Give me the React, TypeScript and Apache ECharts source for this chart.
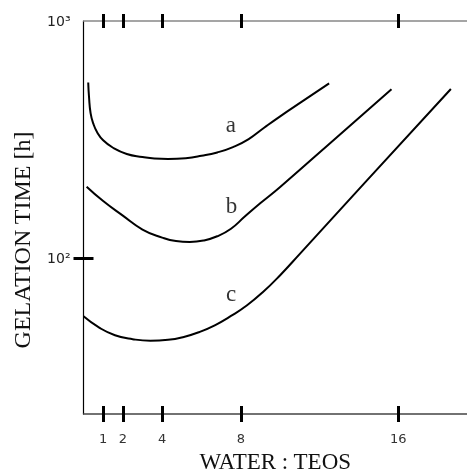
import React, { useEffect, useRef } from 'react';
import * as echarts from 'echarts';

// Tick positions / labels
const xTicks = [1, 2, 4, 8, 16];
const yTicks = [100, 1000];
const yTickLabels = ['10²', '10³'];

// Curve a
const aX = [0.24, 0.28, 0.36, 0.5, 0.7, 1.0, 1.5, 2.2, 3.0, 3.6, 4.3, 5.2, 6.0, 6.8, 7.6, 8.4, 9.2, 10.0, 11.2, 12.49];
const aY = [550, 479, 409, 369, 339, 314, 292, 275, 267, 263, 262, 264, 270, 279, 294, 317.7, 355.6, 396.3, 462.4, 545.8];

// Curve b
const bX = [0.16, 1, 2, 3, 4, 4.7, 5.4, 6.1, 6.8, 7.5, 8.2, 9.0, 10.0, 13.0, 15.66];
const bY = [200, 174, 151, 132, 122, 118, 117, 118.6, 123.6, 133, 149.6, 170.6, 199.5, 330, 515];

// Curve c
const cX = [0, 0.8, 1.6, 2.5, 3.4, 4.3, 5.1, 5.9, 6.7, 7.5, 8.3, 9.1, 10.0, 11.0, 14.39, 18.68];
const cY = [56.8, 50.9, 47.3, 45.5, 44.8, 45.2, 46.5, 48.8, 52.2, 57.0, 63.1, 71.6, 84.7, 104.2, 211.8, 516.4];

// Curve labels
const curveNames = ['a', 'b', 'c'];
const labelX = [7.49, 7.53, 7.51];
const labelY = [366, 166, 70.7];

const xTitle = 'WATER : TEOS';
const yTitle = 'GELATION TIME [h]';

const SERIF = '"Liberation Serif", "Times New Roman", serif';
const SANS = '"DejaVu Sans", Arial, sans-serif';

export default function App() {
  const ref = useRef<HTMLDivElement>(null);
  useEffect(() => {
    const chart = echarts.init(ref.current as HTMLDivElement, null, { renderer: 'svg' });
    const zip = (xs: number[], ys: number[]) => xs.map((x, i) => [x, ys[i]]);
    const xBase = {
      type: 'value',
      min: 0,
      max: 19.5,
      gridIndex: 0,
      splitLine: { show: false },
    };
    const tickStyle = { color: '#000', width: 3 };
    const yBase = {
      type: 'log',
      logBase: 10,
      min: 22,
      max: 1000,
      gridIndex: 0,
      position: 'left',
      splitLine: { show: false },
      minorTick: { show: false },
    };
    const lineStyle = { color: '#000', width: 2 };
    chart.setOption({
      animation: false,
      grid: { left: 83.5, right: 0, top: 21, bottom: 59, outerBoundsMode: 'none', containLabel: false },
      xAxis: [
        {
          ...xBase,
          position: 'bottom',
          axisLine: { show: true, lineStyle: { color: '#444', width: 1.5 } },
          axisTick: { show: true, inside: false, length: 8, lineStyle: tickStyle, customValues: xTicks },
          axisLabel: {
            show: true,
            customValues: xTicks,
            margin: 18,
            fontFamily: SANS,
            fontSize: 13,
            color: '#333',
          },
          name: xTitle,
          nameLocation: 'middle',
          nameGap: 35,
          nameTextStyle: { fontFamily: SERIF, fontSize: 23, color: '#111' },
        },
        {
          ...xBase,
          position: 'bottom',
          axisLine: { show: false },
          axisTick: { show: true, inside: true, length: 8, lineStyle: tickStyle, customValues: xTicks },
          axisLabel: { show: false },
        },
        {
          ...xBase,
          position: 'top',
          axisLine: { show: true, lineStyle: { color: '#888', width: 1.5 } },
          axisTick: { show: true, inside: false, length: 7, lineStyle: tickStyle, customValues: xTicks },
          axisLabel: { show: false },
        },
        {
          ...xBase,
          position: 'top',
          axisLine: { show: false },
          axisTick: { show: true, inside: true, length: 7, lineStyle: tickStyle, customValues: xTicks },
          axisLabel: { show: false },
        },
      ],
      yAxis: [
        {
          ...yBase,
          axisLine: { show: true, lineStyle: { color: '#000', width: 1.2 } },
          axisTick: { show: true, inside: false, length: 10, lineStyle: tickStyle, customValues: [yTicks[0]] },
          axisLabel: {
            show: true,
            customValues: yTicks,
            margin: 13,
            fontFamily: SANS,
            fontSize: 14,
            color: '#222',
            formatter: (v: number) => {
              const idx = yTicks.findIndex((t) => Math.abs(Math.log10(v) - Math.log10(t)) < 1e-6);
              return idx >= 0 ? yTickLabels[idx] : '';
            },
          },
        },
        {
          ...yBase,
          axisLine: { show: false },
          axisTick: { show: true, inside: true, length: 10, lineStyle: tickStyle, customValues: [yTicks[0]] },
          axisLabel: { show: false },
        },
      ],
      graphic: [
        {
          type: 'text',
          x: 22,
          y: 240,
          rotation: Math.PI / 2,
          style: {
            text: yTitle,
            fontFamily: SERIF,
            fontSize: 24,
            fill: '#111',
            align: 'center',
            verticalAlign: 'middle',
            textAlign: 'center',
            textVerticalAlign: 'middle',
          },
        },
      ],
      series: [
        { type: 'line', name: 'a', data: zip(aX, aY), smooth: 0.5, symbol: 'none', lineStyle, silent: true },
        { type: 'line', name: 'b', data: zip(bX, bY), smooth: 0.5, symbol: 'none', lineStyle, silent: true },
        { type: 'line', name: 'c', data: zip(cX, cY), smooth: 0.5, symbol: 'none', lineStyle, silent: true },
        {
          type: 'scatter',
          symbolSize: 0,
          silent: true,
          data: curveNames.map((n, i) => ({ name: n, value: [labelX[i], labelY[i]] })),
          label: {
            show: true,
            position: 'inside',
            formatter: '{b}',
            fontFamily: SERIF,
            fontSize: 23,
            color: '#000',
          },
        },
      ],
    });
    return () => chart.dispose();
  }, []);
  return <div ref={ref} style={{ position: 'fixed', left: 0, top: 0, width: 467, height: 473 }} />;
}
